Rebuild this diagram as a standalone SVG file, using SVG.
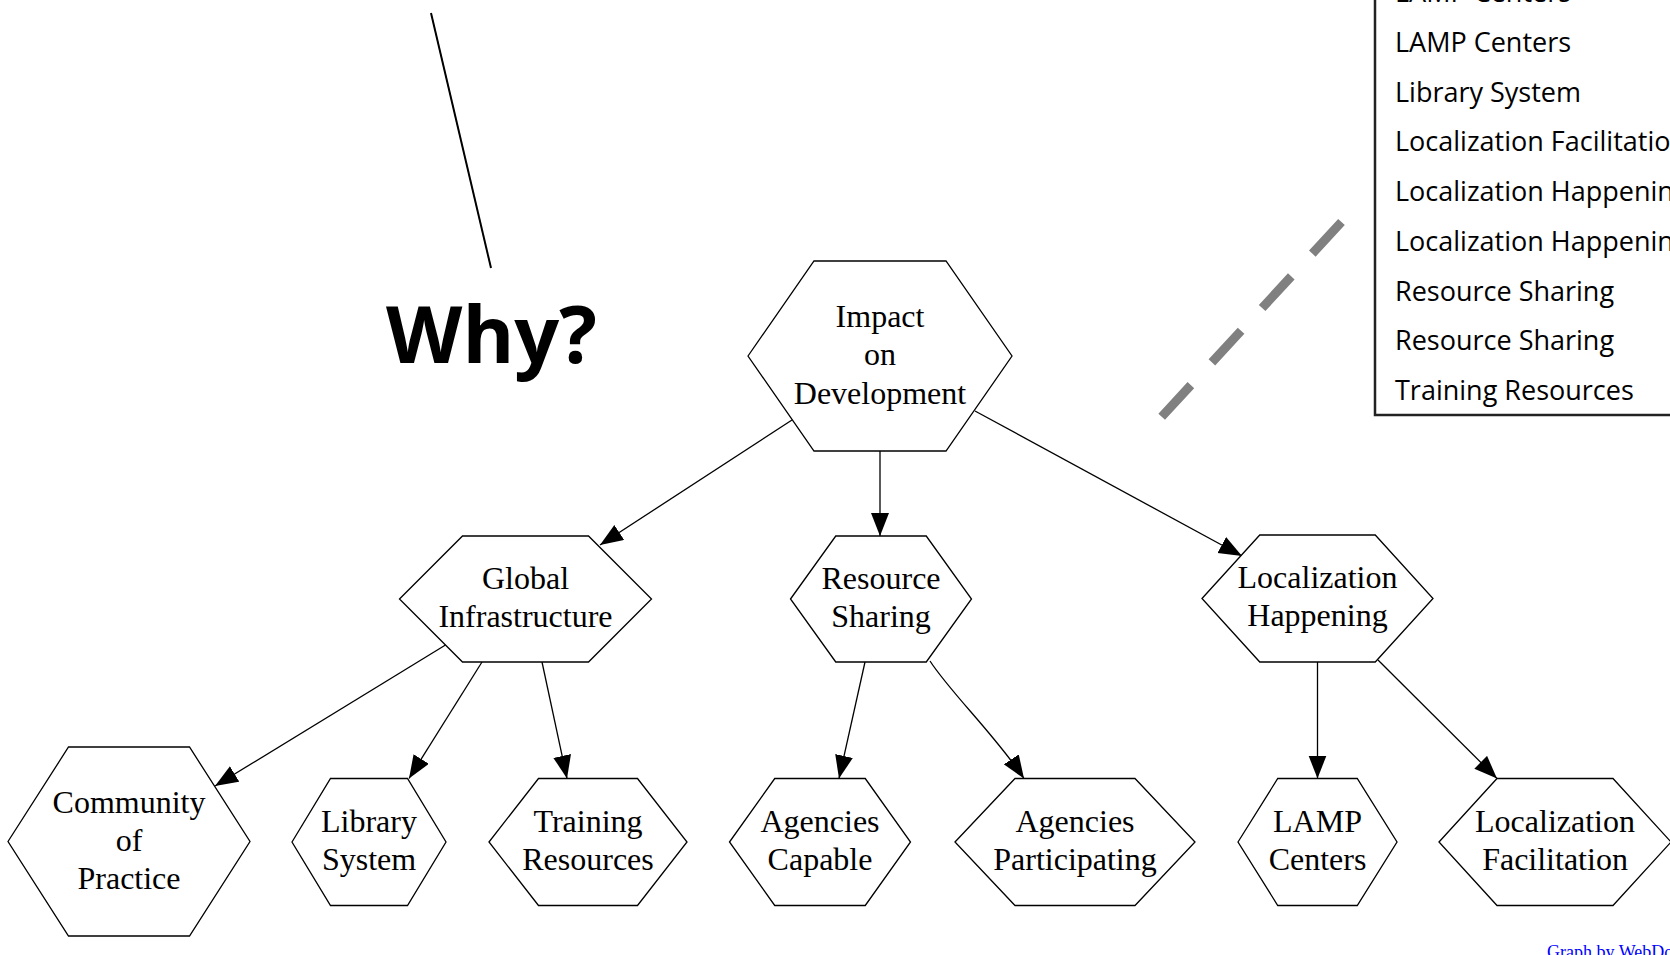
<svg xmlns="http://www.w3.org/2000/svg" width="1670" height="955" viewBox="0 0 1670 955">
<style>
.hex{fill:#fff;stroke:#000;stroke-width:1.3}
.lbl{font-family:"Liberation Serif","Times New Roman",serif;font-size:32px;text-anchor:middle;fill:#000}
.edge{fill:none;stroke:#000;stroke-width:1.3}
.leg{font-family:"Open Sans","Liberation Sans",sans-serif;font-size:27px;fill:#000}
</style>
<defs>
<marker id="arr" markerUnits="userSpaceOnUse" markerWidth="24" markerHeight="20" refX="23" refY="9" orient="auto">
<path d="M0,0 L23,9 L0,18 z" fill="#000"/>
</marker>
</defs>
<rect x="0" y="0" width="1670" height="955" fill="#fff"/>

<g id="annotation">
<line x1="431" y1="13" x2="491" y2="268" stroke="#000" stroke-width="2"/>
<text x="386" y="363" font-family="'Open Sans','Liberation Sans',sans-serif" font-weight="bold" font-size="79" fill="#000">Why?</text>
<line x1="1161.7" y1="416.7" x2="1342.7" y2="220.7" stroke="#808080" stroke-width="9" stroke-dasharray="43 31"/>
</g>

<g id="legend">
<rect x="1375" y="-10" width="400" height="425" fill="#fff" stroke="#222" stroke-width="2.5"/>
<text class="leg" x="1395" y="2.3">LAMP Centers</text>
<text class="leg" x="1395" y="52">LAMP Centers</text>
<text class="leg" x="1395" y="101.7">Library System</text>
<text class="leg" x="1395" y="151.4">Localization Facilitation</text>
<text class="leg" x="1395" y="201">Localization Happening</text>
<text class="leg" x="1395" y="250.8">Localization Happening</text>
<text class="leg" x="1395" y="300.5">Resource Sharing</text>
<text class="leg" x="1395" y="350.2">Resource Sharing</text>
<text class="leg" x="1395" y="400">Training Resources</text>
</g>

<g id="connectors">
<path class="edge" marker-end="url(#arr)" d="M792,420 L600,545"/>
<path class="edge" marker-end="url(#arr)" d="M880,451 L880,536"/>
<path class="edge" marker-end="url(#arr)" d="M975,411 L1242,556"/>
<path class="edge" marker-end="url(#arr)" d="M445.5,645 L215,786"/>
<path class="edge" marker-end="url(#arr)" d="M482,662 L409,778.5"/>
<path class="edge" marker-end="url(#arr)" d="M542,662 L567,778.5"/>
<path class="edge" marker-end="url(#arr)" d="M865,662 L839,778.5"/>
<path class="edge" marker-end="url(#arr)" d="M930,661 C950,692 995,735 1024,778.5"/>
<path class="edge" marker-end="url(#arr)" d="M1317.5,662 L1317.5,778.5"/>
<path class="edge" marker-end="url(#arr)" d="M1378,660 L1497,778.5"/>
</g>

<g id="node-impact">
<polygon class="hex" points="748,356 814,261 946,261 1012,356 946,451 814,451"/>
<text class="lbl" x="880" y="327">Impact</text>
<text class="lbl" x="880" y="365">on</text>
<text class="lbl" x="880" y="404">Development</text>
</g>
<g id="node-global">
<polygon class="hex" points="399.5,599 462.5,536 588.5,536 651.5,599 588.5,662 462.5,662"/>
<text class="lbl" x="525.5" y="588.5">Global</text>
<text class="lbl" x="525.5" y="626.5">Infrastructure</text>
</g>
<g id="node-resource">
<polygon class="hex" points="790.5,599 835.75,536 926.25,536 971.5,599 926.25,662 835.75,662"/>
<text class="lbl" x="881" y="588.5">Resource</text>
<text class="lbl" x="881" y="626.5">Sharing</text>
</g>
<g id="node-lochappening">
<polygon class="hex" points="1202,598.5 1259.75,535 1375.25,535 1433,598.5 1375.25,662 1259.75,662"/>
<text class="lbl" x="1317.5" y="588">Localization</text>
<text class="lbl" x="1317.5" y="626">Happening</text>
</g>
<g id="node-community">
<polygon class="hex" points="8,841.5 68.5,747 189.5,747 250,841.5 189.5,936 68.5,936"/>
<text class="lbl" x="129" y="812.5">Community</text>
<text class="lbl" x="129" y="850.5">of</text>
<text class="lbl" x="129" y="888.5">Practice</text>
</g>
<g id="node-library">
<polygon class="hex" points="292,842 330.5,778.5 407.5,778.5 446,842 407.5,905.5 330.5,905.5"/>
<text class="lbl" x="369" y="832">Library</text>
<text class="lbl" x="369" y="870">System</text>
</g>
<g id="node-training">
<polygon class="hex" points="489,842 538.5,778.5 637.5,778.5 687,842 637.5,905.5 538.5,905.5"/>
<text class="lbl" x="588" y="832">Training</text>
<text class="lbl" x="588" y="870">Resources</text>
</g>
<g id="node-agcapable">
<polygon class="hex" points="729.5,842 774.75,778.5 865.25,778.5 910.5,842 865.25,905.5 774.75,905.5"/>
<text class="lbl" x="820" y="832">Agencies</text>
<text class="lbl" x="820" y="870">Capable</text>
</g>
<g id="node-agparticipating">
<polygon class="hex" points="955,842 1015,778.5 1135,778.5 1195,842 1135,905.5 1015,905.5"/>
<text class="lbl" x="1075" y="832">Agencies</text>
<text class="lbl" x="1075" y="870">Participating</text>
</g>
<g id="node-lamp">
<polygon class="hex" points="1238,842 1277.75,778.5 1357.25,778.5 1397,842 1357.25,905.5 1277.75,905.5"/>
<text class="lbl" x="1317.5" y="832">LAMP</text>
<text class="lbl" x="1317.5" y="870">Centers</text>
</g>
<g id="node-locfacilitation">
<polygon class="hex" points="1439,842 1497,778.5 1613,778.5 1671,842 1613,905.5 1497,905.5"/>
<text class="lbl" x="1555" y="832">Localization</text>
<text class="lbl" x="1555" y="870">Facilitation</text>
</g>

<text x="1547" y="958" font-family="'Liberation Serif',serif" font-size="18" fill="#0000ff">Graph by WebDot</text>
</svg>
